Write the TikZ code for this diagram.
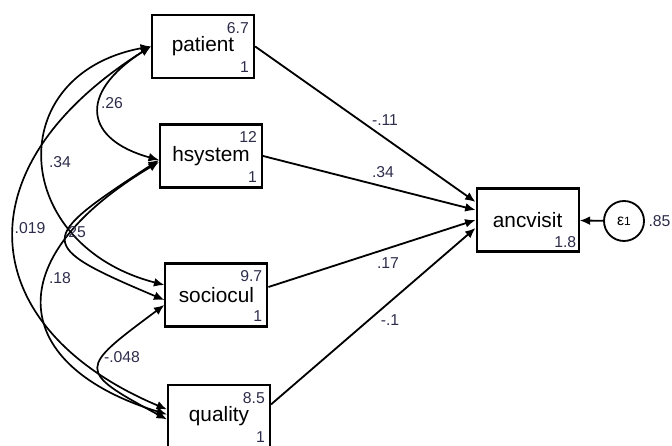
\documentclass[tikz,border=0pt]{standalone}
\usepackage{fontspec}
\setmainfont{Liberation Sans}
\usepackage{tikz}
\usepackage{xcolor}
\usetikzlibrary{calc,arrows.meta}
\definecolor{estcol}{RGB}{45,45,75}

\begin{document}
\begin{tikzpicture}
% define the styles
\tikzset{varbox/.style={draw,line width=1.5pt,minimum width=\widthVar cm,minimum height=\heightVar cm,inner sep=0pt}}
\tikzset{errnode/.style={circle,draw,line width=1.3pt,minimum size=1cm,inner sep=0pt}}
\tikzset{pathline/.style={line width=1.3pt,-{Latex[length=2.6mm,width=2.2mm]}}}
\tikzset{covline/.style={line width=1.2pt,{Latex[length=2.6mm,width=2.2mm]}-{Latex[length=2.6mm,width=2.2mm]}}}
\tikzset{estlbl/.style={text=estcol,inner sep=1pt,font=\fontE}}

%% CONFIG
% Size of a variable box
\def\widthVar{2.55}
\def\heightVar{1.575}

\def\fontV{\fontsize{14.8}{17}\selectfont}
\def\fontN{\fontsize{11.2}{13}\selectfont}
\def\fontE{\fontsize{11.2}{13}\selectfont}

% fix the page
\useasboundingbox (0,0) rectangle (16.8,11.15);

%% Macro for an observed variable
% 1: id
% 2: loc
% 3: name
% 4: upper number
% 5: lower number
\newcommand{\obsvar}[5]{
    \node[varbox] (#1) at #2 {\fontV #3};
    \node[anchor=north east,inner sep=0pt,text=estcol] (#1/up) at ($(#1.north east)+(-0.15,-0.2)$) {\fontN #4};
    \node[anchor=south east,inner sep=0pt,text=estcol] (#1/low) at ($(#1.south east)+(-0.15,0.15)$) {\fontN #5};
}

% Draw the exogenous variables
\obsvar{patient}{(5.075,9.99)}{patient}{6.7}{1}
\obsvar{hsystem}{(5.275,7.25)}{hsystem}{12}{1}
\obsvar{sociocul}{(5.41,3.775)}{sociocul}{9.7}{1}
\obsvar{quality}{(5.475,0.74)}{quality}{8.5}{1}

% Draw the outcome and its error
\node[varbox] (anc) at (13.19,5.65) {\fontV ancvisit};
\node[anchor=south east,inner sep=0pt,text=estcol] (anc/low) at ($(anc.south east)+(-0.08,0.12)$) {\fontN 1.8};
\node[errnode] (e1) at (15.6,5.625) {\fontN ε{\fontsize{8.5}{9}\selectfont 1}};
\node[estlbl,anchor=west] (e1var) at ($(e1.east)+(0.05,0)$) {.85};
\draw[pathline] (e1) -- (anc);

% Draw the paths to the outcome
\foreach \v/\dy/\sy in {patient/0.45/0, hsystem/0.25/0, sociocul/0/0.2, quality/-0.2/0.3}{
    \draw[pathline] ($(\v.east)+(0,\sy)$) -- ($(anc.west)+(0,\dy)$);
}
\node[estlbl] (b1) at (9.625,8.15) {-.11};
\node[estlbl] (b2) at (9.575,6.85) {.34};
\node[estlbl] (b3) at (9.7,4.575) {.17};
\node[estlbl] (b4) at (9.75,3.15) {-.1};

%%% Draw the covariances
% from patient
\draw[covline] (patient.west) .. controls +(-1.875,-1.2) and +(-1.825,0.5) .. ($(hsystem.west)+(0,-0.1)$);
\draw[covline] (patient.west) .. controls +(-3.75,-0.7) and +(-3.85,1.0) .. ($(sociocul.west)+(0,0.25)$);
\draw[covline] (patient.west) .. controls +(-4.875,-3.075) and +(-4.75,2.0) .. ($(quality.west)+(0,0.175)$);
% from hsystem
\draw[covline] ($(hsystem.west)+(0,-0.1)$) .. controls +(-3.075,-2.0) and +(-3.25,1.375) .. ($(sociocul.west)+(0,-0.125)$);
\draw[covline] ($(hsystem.west)+(0,-0.15)$) .. controls +(-4.1,-2.45) and +(-3.9,1.2) .. ($(quality.west)+(0,0.05)$);
% from sociocul
\draw[covline] ($(sociocul.west)+(0,-0.25)$) .. controls +(-2.15,-1.6) and +(-2.275,1.225) .. ($(quality.west)+(0,-0.075)$);

% Draw the covariance estimates
\node[estlbl] (c1) at (2.8,8.575) {.26};
\node[estlbl] (c2) at (1.5,7.1) {.34};
\node[estlbl] (c3) at (0.75,5.45) {.019};
\node[estlbl] (c4) at (1.875,5.35) {.25};
\node[estlbl] (c5) at (1.5,4.2) {.18};
\node[estlbl] (c6) at (3.05,2.225) {-.048};

\end{tikzpicture}
\end{document}
